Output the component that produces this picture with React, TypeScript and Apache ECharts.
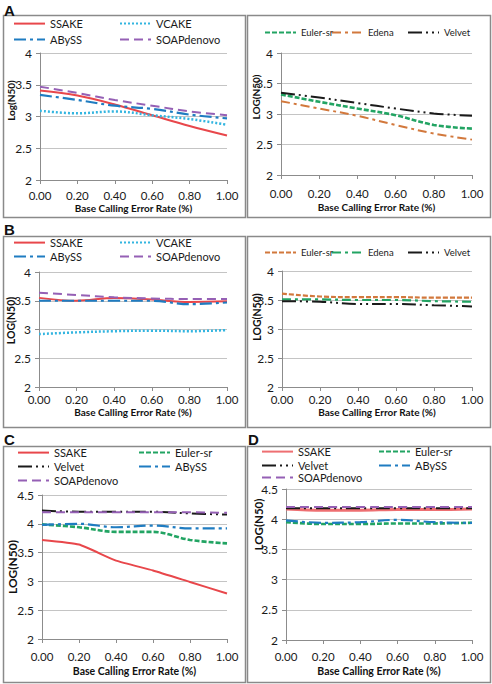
import React, { useEffect, useRef } from "react";
import * as echarts from "echarts";

const FONT = "Lato, 'Open Sans', sans-serif";

const xCats = ["0.00", "0.20", "0.40", "0.60", "0.80", "1.00"];

// Panel A (left)
const aSSAKE = [3.41, 3.33, 3.19, 3.02, 2.85, 2.7];
const aVCAKE = [3.09, 3.05, 3.08, 3.02, 2.96, 2.87];
const aABySS = [3.34, 3.26, 3.17, 3.12, 3.03, 2.97];
const aSOAP = [3.47, 3.37, 3.26, 3.17, 3.08, 3.02];
// Panel A (right)
const aEuler = [3.32, 3.2, 3.09, 2.98, 2.82, 2.76];
const aEdena = [3.21, 3.09, 2.97, 2.82, 2.68, 2.58];
const aVelvet = [3.35, 3.27, 3.18, 3.09, 3.01, 2.97];
// Panel B (left)
const bSSAKE = [3.55, 3.5, 3.55, 3.52, 3.48, 3.49];
const bVCAKE = [2.92, 2.95, 2.97, 2.98, 2.97, 2.99];
const bABySS = [3.5, 3.5, 3.5, 3.5, 3.44, 3.47];
const bSOAP = [3.64, 3.6, 3.56, 3.54, 3.53, 3.53];
// Panel B (right)
const bEuler = [3.61, 3.56, 3.55, 3.55, 3.54, 3.54];
const bEdena = [3.51, 3.51, 3.5, 3.5, 3.48, 3.47];
const bVelvet = [3.48, 3.47, 3.43, 3.43, 3.41, 3.39];
// Panel C
const cSSAKE = [3.72, 3.64, 3.36, 3.19, 2.99, 2.79];
const cEuler = [3.99, 3.94, 3.86, 3.86, 3.72, 3.66];
const cVelvet = [4.23, 4.21, 4.21, 4.21, 4.18, 4.16];
const cABySS = [3.98, 4.0, 3.94, 3.97, 3.92, 3.92];
const cSOAP = [4.2, 4.2, 4.2, 4.2, 4.2, 4.19];
// Panel D
const dSSAKE = [4.17, 4.15, 4.15, 4.16, 4.16, 4.17];
const dEuler = [3.95, 3.92, 3.92, 3.93, 3.93, 3.94];
const dVelvet = [4.18, 4.18, 4.18, 4.18, 4.18, 4.18];
const dABySS = [3.98, 3.94, 3.95, 3.99, 3.95, 3.94];
const dSOAP = [4.2, 4.2, 4.2, 4.2, 4.2, 4.2];

const RED = "#E8474B";
const CYAN = "#33B5E0";
const BLUE = "#1F7CC1";
const PURPLE = "#9560B5";
const GREEN = "#22A463";
const ORANGE = "#D2783C";
const BLACK = "#1A1A1A";

const STY: any = {
  SSAKE: { color: RED, type: "solid", width: 2 },
  SSAKEd: { color: "#EE6F72", type: "solid", width: 3 },
  VCAKE: { color: CYAN, type: [2, 2], width: 2.5 },
  ABySS: { color: BLUE, type: [12, 4, 3, 4], width: 2.2 },
  SOAP: { color: PURPLE, type: [9, 5], width: 2 },
  EulerG: { color: GREEN, type: [5, 2], width: 2.6 },
  EulerO: { color: ORANGE, type: [5, 2], width: 2.2 },
  EdenaO: { color: ORANGE, type: [9, 4, 3, 4], width: 2 },
  EdenaG: { color: GREEN, type: [9, 4, 3, 4], width: 2.2 },
  Velvet: { color: BLACK, type: [14, 4, 2, 4, 2, 4], width: 2 },
};

const panels: any[] = [
  {
    id: "A1",
    grid: { left: 40, top: 53, width: 187, height: 127 },
    yMax: 4, yName: "Log(N50)", yNameGap: 24, yShift: 16, yNameSize: 10,
    xLabelMargin: 9, xNameGap: 23, xNameSize: 10, legendSize: 11,
    series: [
      { name: "SSAKE", data: aSSAKE, s: "SSAKE", lx: 13, ly: 25 },
      { name: "VCAKE", data: aVCAKE, s: "VCAKE", lx: 119, ly: 25 },
      { name: "ABySS", data: aABySS, s: "ABySS", lx: 13, ly: 41 },
      { name: "SOAPdenovo", data: aSOAP, s: "SOAP", lx: 119, ly: 41 },
    ],
  },
  {
    id: "A2",
    grid: { left: 281, top: 53, width: 191, height: 122 },
    yMax: 4, yName: "LOG(N50)", yNameGap: 20, yShift: 17, yNameSize: 10,
    xLabelMargin: 12, xNameGap: 27, xNameSize: 10, legendSize: 9.5,
    series: [
      { name: "Euler-sr", data: aEuler, s: "EulerG", lx: 264, ly: 34 },
      { name: "Edena", data: aEdena, s: "EdenaO", lx: 331, ly: 34 },
      { name: "Velvet", data: aVelvet, s: "Velvet", lx: 407, ly: 34 },
    ],
  },
  {
    id: "B1",
    grid: { left: 39, top: 272, width: 188, height: 115 },
    yMax: 4, yName: "LOG(N50)", yNameGap: 23, yShift: 9, yNameSize: 10.5,
    xLabelMargin: 6, xNameGap: 20, xNameSize: 10, legendSize: 11,
    series: [
      { name: "SSAKE", data: bSSAKE, s: "SSAKE", lx: 13, ly: 244 },
      { name: "VCAKE", data: bVCAKE, s: "VCAKE", lx: 119, ly: 244 },
      { name: "ABySS", data: bABySS, s: "ABySS", lx: 13, ly: 258 },
      { name: "SOAPdenovo", data: bSOAP, s: "SOAP", lx: 119, ly: 258 },
    ],
  },
  {
    id: "B2",
    grid: { left: 282, top: 271, width: 190, height: 116 },
    yMax: 4, yName: "LOG(N50)", yNameGap: 20, yShift: 12, yNameSize: 10.5,
    xLabelMargin: 6, xNameGap: 20, xNameSize: 10, legendSize: 9.5,
    series: [
      { name: "Euler-sr", data: bEuler, s: "EulerO", lx: 264, ly: 254 },
      { name: "Edena", data: bEdena, s: "EdenaG", lx: 331, ly: 254 },
      { name: "Velvet", data: bVelvet, s: "Velvet", lx: 407, ly: 254 },
    ],
  },
  {
    id: "C",
    grid: { left: 42, top: 495, width: 185, height: 144 },
    yMax: 4.5, yName: "LOG(N50)", yNameGap: 24, yShift: 0, yNameSize: 12,
    xLabelMargin: 11, xNameGap: 26, xNameSize: 10.5, legendSize: 11,
    series: [
      { name: "SSAKE", data: cSSAKE, s: "SSAKE", lx: 17, ly: 454, smooth: 0.15 },
      { name: "Euler-sr", data: cEuler, s: "EulerG", lx: 138, ly: 454 },
      { name: "Velvet", data: cVelvet, s: "Velvet", lx: 17, ly: 468 },
      { name: "ABySS", data: cABySS, s: "ABySS", lx: 138, ly: 468 },
      { name: "SOAPdenovo", data: cSOAP, s: "SOAP", lx: 17, ly: 482 },
    ],
  },
  {
    id: "D",
    grid: { left: 286, top: 489, width: 186, height: 151 },
    yMax: 4.5, yName: "LOG(N50)", yNameGap: 22, yShift: 40, yNameSize: 11.5,
    xLabelMargin: 10, xNameGap: 25, xNameSize: 10.5, legendSize: 11,
    series: [
      { name: "SSAKE", data: dSSAKE, s: "SSAKEd", lx: 261, ly: 453 },
      { name: "Euler-sr", data: dEuler, s: "EulerG", lx: 378, ly: 453 },
      { name: "Velvet", data: dVelvet, s: "Velvet", lx: 261, ly: 467 },
      { name: "ABySS", data: dABySS, s: "ABySS", lx: 378, ly: 467 },
      { name: "SOAPdenovo", data: dSOAP, s: "SOAP", lx: 261, ly: 479 },
    ],
  },
];

const boxes = [
  { x: 3, y: 15, w: 242, h: 202 },
  { x: 247, y: 15, w: 243, h: 202 },
  { x: 3, y: 236, w: 242, h: 191 },
  { x: 247, y: 236, w: 243, h: 191 },
  { x: 3, y: 446, w: 242, h: 236 },
  { x: 247, y: 446, w: 243, h: 236 },
];

const letters = [
  { t: "A", x: 4, y: 3 },
  { t: "B", x: 4, y: 222 },
  { t: "C", x: 4, y: 432 },
  { t: "D", x: 248, y: 432 },
];

function buildOption() {
  const grids: any[] = [];
  const xAxes: any[] = [];
  const yAxes: any[] = [];
  const series: any[] = [];
  const legends: any[] = [];
  panels.forEach((p, i) => {
    grids.push({ ...p.grid, containLabel: false, outerBoundsMode: "none" });
    xAxes.push({
      type: "category",
      gridIndex: i,
      data: xCats,
      boundaryGap: false,
      axisLine: { lineStyle: { color: "#8c8c8c", width: 1 } },
      axisTick: { show: true, length: 4, alignWithLabel: true, lineStyle: { color: "#8c8c8c" } },
      axisLabel: { interval: 0, fontSize: 11.5, color: "#1a1a1a", margin: p.xLabelMargin, fontFamily: FONT },
      splitLine: { show: false },
      name: "Base Calling Error Rate (%)",
      nameLocation: "middle",
      nameGap: p.xNameGap,
      nameMoveOverlap: false,
      nameTextStyle: { fontSize: p.xNameSize, fontWeight: "bold", color: "#111", fontFamily: FONT },
    });
    yAxes.push({
      type: "value",
      gridIndex: i,
      min: 2,
      max: p.yMax,
      interval: 0.5,
      axisLine: { show: true, lineStyle: { color: "#8c8c8c", width: 1 } },
      axisTick: { show: true, length: 4, lineStyle: { color: "#8c8c8c" } },
      axisLabel: { fontSize: 12, color: "#1a1a1a", margin: 8, fontFamily: FONT },
      splitLine: { show: true, lineStyle: { color: "#c4c4c4", width: 1 } },
      name: p.yName,
      nameLocation: "middle",
      nameGap: p.yNameGap,
      nameMoveOverlap: false,
      nameTextStyle: {
        fontSize: p.yNameSize,
        fontWeight: "bold",
        color: "#111",
        fontFamily: FONT,
        padding: [0, 0, 0, p.yShift * 2],
      },
    });
    p.series.forEach((s: any, k: number) => {
      const st = STY[s.s];
      const full = p.id + "|" + s.name;
      series.push({
        type: "line",
        name: full,
        xAxisIndex: i,
        yAxisIndex: i,
        data: s.data,
        smooth: s.smooth !== undefined ? s.smooth : 0.35,
        symbol: "none",
        showSymbol: false,
        color: st.color,
        itemStyle: { color: st.color },
        lineStyle: { color: st.color, width: st.width, type: st.type, cap: "butt" },
        z: 2 + k,
      });
      legends.push({
        left: s.lx,
        top: s.ly - 7,
        padding: 0,
        itemGap: 0,
        itemWidth: 31,
        itemHeight: 14,
        selectedMode: false,
        data: [full],
        formatter: (n: string) => n.split("|")[1],
        itemStyle: { opacity: 0, borderWidth: 0 },
        textStyle: { fontSize: p.legendSize, color: "#1a1a1a", fontFamily: FONT },
      });
    });
  });

  const graphic: any[] = [];
  boxes.forEach((b) => {
    graphic.push({
      type: "rect",
      shape: { x: b.x + 0.5, y: b.y + 0.5, width: b.w, height: b.h },
      style: { fill: "none", stroke: "#8a8a8a", lineWidth: 1.5 },
      silent: true,
    });
  });
  letters.forEach((l) => {
    graphic.push({
      type: "text",
      x: l.x,
      y: l.y,
      style: {
        text: l.t,
        fontSize: 15,
        fontWeight: "bold",
        fontFamily: "'Liberation Sans', Arial, sans-serif",
        fill: "#111",
      },
    });
  });

  return {
    animation: false,
    backgroundColor: "#ffffff",
    grid: grids,
    xAxis: xAxes,
    yAxis: yAxes,
    legend: legends,
    series,
    graphic,
  };
}

export default function App() {
  const ref = useRef<HTMLDivElement>(null);
  useEffect(() => {
    if (!ref.current) return;
    const chart = echarts.init(ref.current, undefined, { renderer: "svg" });
    chart.setOption(buildOption() as any);
    return () => {
      chart.dispose();
    };
  }, []);
  return (
    <div
      ref={ref}
      style={{ position: "fixed", left: 0, top: 0, width: 492, height: 684, background: "#fff" }}
    />
  );
}
